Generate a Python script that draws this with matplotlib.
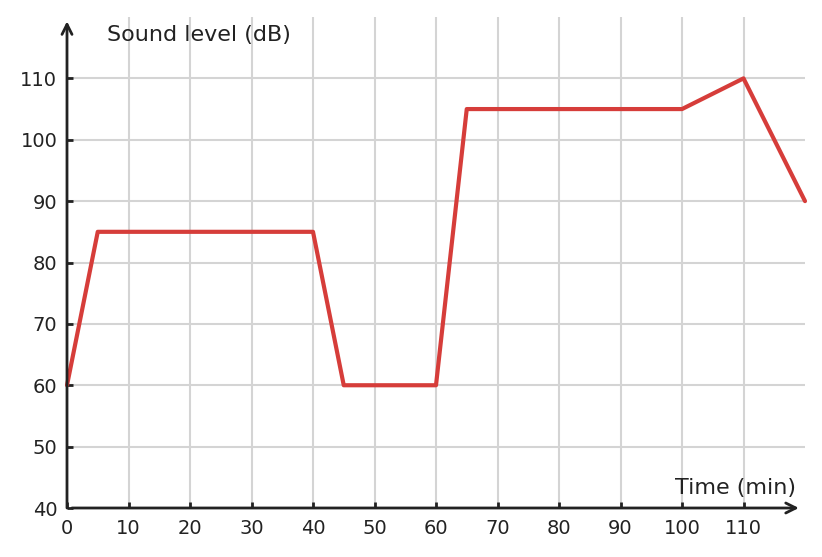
import matplotlib
matplotlib.use("Agg")
from matplotlib import pyplot as plt

# Sound level over time
time_min = [0, 5, 40, 45, 60, 65, 100, 110, 120]
sound_db = [60, 85, 85, 60, 60, 105, 105, 110, 90]
x_ticks = [0, 10, 20, 30, 40, 50, 60, 70, 80, 90, 100, 110]
y_ticks = [40, 50, 60, 70, 80, 90, 100, 110]

ink = '#222222'

fig = plt.figure(figsize=(8.22, 5.57), dpi=100)
ax = fig.add_axes([67 / 822, 49 / 557, 738 / 822, 491 / 557])
ax.set_xlim(0, 120)
ax.set_ylim(40, 120)

# grid
for x in x_ticks[1:]:
    ax.axvline(x, color='#d4d4d4', lw=1.5, zorder=1)
for y in y_ticks[1:]:
    ax.axhline(y, color='#d4d4d4', lw=1.5, zorder=1)

ax.plot(time_min, sound_db, color='#d63d3a', lw=3, zorder=3,
        solid_joinstyle='round', solid_capstyle='round', clip_on=False)

for s in ax.spines.values():
    s.set_visible(False)

# axes with arrows
ax.annotate('', xy=(0, 119.3), xytext=(0, 40), xycoords='data',
            arrowprops=dict(arrowstyle='->', color=ink, lw=2,
                            mutation_scale=18, shrinkA=0, shrinkB=0),
            annotation_clip=False, zorder=4)
ax.annotate('', xy=(119, 40), xytext=(0.8, 40), xycoords='data',
            arrowprops=dict(arrowstyle='->', color=ink, lw=2,
                            mutation_scale=18, shrinkA=0, shrinkB=0),
            annotation_clip=False, zorder=4)

ax.set_xticks(x_ticks)
ax.set_yticks(y_ticks)
ax.tick_params(direction='in', length=4, width=2, color=ink,
               labelcolor=ink, labelsize=14)
ax.tick_params(axis='y', pad=7)
ax.tick_params(axis='x', pad=8)

ax.text(6.5, 117, 'Sound level (dB)', fontsize=16, color=ink,
        ha='left', va='center')
ax.text(118.5, 43.3, 'Time (min)', fontsize=16, color=ink,
        ha='right', va='center')

fig.savefig('out.png', dpi=100)
